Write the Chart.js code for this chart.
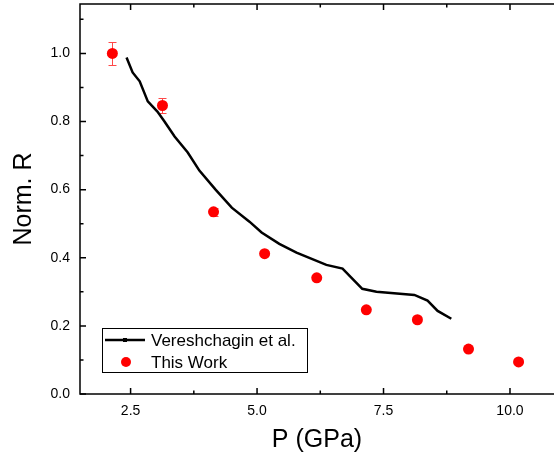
<!DOCTYPE html>
<html>
<head>
<meta charset="utf-8">
<title>Norm. R vs P</title>
<script src="https://cdn.jsdelivr.net/npm/chart.js@4.4.1/dist/chart.umd.min.js"></script>
<style>
    html, body { margin: 0; padding: 0; background: #fff; }
    canvas { display: block; }
</style>
</head>
<body>
<canvas id="resistanceChart" width="554" height="461"></canvas>
<script>
// Vereshchagin et al. curve
const lineP = [2.42, 2.54, 2.68, 2.84, 3.03, 3.17, 3.37, 3.63, 3.86, 4.18, 4.50, 4.85, 5.09, 5.44, 5.78, 6.37, 6.69, 7.08, 7.36, 8.11, 8.37, 8.57, 8.84];
const lineR = [0.988, 0.944, 0.918, 0.859, 0.829, 0.800, 0.756, 0.709, 0.656, 0.600, 0.547, 0.506, 0.474, 0.441, 0.415, 0.379, 0.368, 0.309, 0.300, 0.291, 0.274, 0.244, 0.221];

// This work
const workP = [2.14, 3.13, 4.14, 5.15, 6.18, 7.16, 8.17, 9.18, 10.17];
const workR = [1.000, 0.847, 0.535, 0.412, 0.341, 0.247, 0.218, 0.132, 0.094];
const workErr = [0.033, 0.023, 0.011, 0, 0, 0, 0, 0, 0];

const xTicks = [2.5, 5.0, 7.5, 10.0];
const xMinorTicks = [3.75, 6.25, 8.75];
const yTicks = [0.0, 0.2, 0.4, 0.6, 0.8, 1.0];
const yMinorTicks = [0.1, 0.3, 0.5, 0.7, 0.9, 1.1];

const FONT = "'Liberation Sans', Arial, sans-serif";

// frame with inward ticks; the right edge sits just past the canvas
const framePlugin = {
    id: "frame",
    afterDatasetsDraw(chart) {
        const { ctx, chartArea: a, scales: { x, y } } = chart;
        const right = a.right + 6;
        ctx.save();
        ctx.strokeStyle = "#000";
        ctx.lineWidth = 1.5;
        ctx.strokeRect(a.left, a.top, right - a.left, a.bottom - a.top);

        function xTick(v, len) {
            const px = x.getPixelForValue(v);
            ctx.moveTo(px, a.bottom); ctx.lineTo(px, a.bottom - len);
            ctx.moveTo(px, a.top); ctx.lineTo(px, a.top + len);
        }
        function yTick(v, len) {
            const py = y.getPixelForValue(v);
            ctx.moveTo(a.left, py); ctx.lineTo(a.left + len, py);
            ctx.moveTo(right, py); ctx.lineTo(right - len, py);
        }
        ctx.beginPath();
        xTicks.forEach(v => xTick(v, 6));
        xMinorTicks.forEach(v => xTick(v, 3.5));
        yTicks.forEach(v => yTick(v, 6));
        yMinorTicks.forEach(v => yTick(v, 3.5));
        ctx.stroke();
        ctx.restore();
    }
};

// vertical error bars with caps
const errorBarPlugin = {
    id: "errorBars",
    beforeDatasetsDraw(chart) {
        const { ctx, scales: { x, y } } = chart;
        ctx.save();
        ctx.strokeStyle = "#ff4848";
        ctx.lineWidth = 1;
        ctx.beginPath();
        workP.forEach((p, i) => {
            if (!workErr[i]) return;
            const px = Math.round(x.getPixelForValue(p)) + 0.5;
            const top = Math.round(y.getPixelForValue(workR[i] + workErr[i])) + 0.5;
            const bot = Math.round(y.getPixelForValue(workR[i] - workErr[i])) + 0.5;
            ctx.moveTo(px, top); ctx.lineTo(px, bot);
            ctx.moveTo(px - 4, top); ctx.lineTo(px + 4, top);
            ctx.moveTo(px - 4, bot); ctx.lineTo(px + 4, bot);
        });
        ctx.stroke();
        ctx.restore();
    }
};

// boxed legend in the lower left of the plot
const legendBoxPlugin = {
    id: "legendBox",
    afterDraw(chart) {
        const { ctx, chartArea: a } = chart;
        const ds = chart.data.datasets;
        const bx = a.left + 22, by = a.bottom - 66, bw = 205, bh = 44;
        ctx.save();
        ctx.strokeStyle = "#000";
        ctx.lineWidth = 1;
        ctx.strokeRect(bx + 0.5, by + 0.5, bw, bh);

        ctx.font = "17px " + FONT;
        ctx.fillStyle = "#000";
        ctx.textBaseline = "middle";

        const row1 = by + 12, row2 = by + 34;
        ctx.strokeStyle = ds[0].borderColor;
        ctx.lineWidth = 2.5;
        ctx.beginPath();
        ctx.moveTo(bx + 3, row1); ctx.lineTo(bx + 43, row1);
        ctx.stroke();
        ctx.fillRect(bx + 21, row1 - 2, 4, 4);
        ctx.fillText(ds[0].label, bx + 49, row1 + 1);

        ctx.fillStyle = ds[1].backgroundColor;
        ctx.beginPath();
        ctx.arc(bx + 24, row2, 5, 0, Math.PI * 2);
        ctx.fill();
        ctx.fillStyle = "#000";
        ctx.fillText(ds[1].label, bx + 49, row2 + 1);
        ctx.restore();
    }
};

const ctx = document.getElementById("resistanceChart").getContext("2d");

new Chart(ctx, {
    type: "scatter",
    data: {
        datasets: [{
            label: "Vereshchagin et al.",
            data: lineP.map((p, i) => ({ x: p, y: lineR[i] })),
            showLine: true,
            borderColor: "#000",
            borderWidth: 2.5,
            pointRadius: 0,
            tension: 0
        }, {
            label: "This Work",
            data: workP.map((p, i) => ({ x: p, y: workR[i] })),
            backgroundColor: "#ff0000",
            borderWidth: 0,
            pointRadius: 5.5,
            pointHoverRadius: 5.5
        }]
    },
    options: {
        responsive: false,
        animation: false,
        devicePixelRatio: 1,
        layout: {
            autoPadding: false,
            padding: { top: 4, right: 0, left: 0, bottom: 0 }
        },
        plugins: {
            legend: { display: false },
            tooltip: { enabled: false }
        },
        scales: {
            x: {
                type: "linear",
                min: 1.5,
                max: 10.87,
                afterBuildTicks: s => { s.ticks = xTicks.map(v => ({ value: v })); },
                afterFit: s => { s.height = 67; s.paddingLeft = 0; s.paddingRight = 0; },
                grid: { display: false, drawTicks: false },
                border: { display: false },
                ticks: {
                    color: "#000",
                    font: { family: FONT, size: 14 },
                    padding: 9,
                    maxRotation: 0,
                    autoSkip: false,
                    callback: v => v.toFixed(1)
                },
                title: {
                    display: true,
                    text: "P (GPa)",
                    color: "#000",
                    font: { family: FONT, size: 25 },
                    padding: { top: 0, bottom: 6 }
                }
            },
            y: {
                type: "linear",
                min: 0,
                max: 1.145,
                afterBuildTicks: s => { s.ticks = yTicks.map(v => ({ value: v })); },
                afterFit: s => { s.width = 80; s.paddingTop = 0; s.paddingBottom = 0; },
                grid: { display: false, drawTicks: false },
                border: { display: false },
                ticks: {
                    color: "#000",
                    font: { family: FONT, size: 14 },
                    padding: 10,
                    autoSkip: false,
                    callback: v => v.toFixed(1)
                },
                title: {
                    display: true,
                    text: "Norm. R",
                    color: "#000",
                    font: { family: FONT, size: 25 },
                    padding: { top: 9, bottom: 0 }
                }
            }
        }
    },
    plugins: [errorBarPlugin, framePlugin, legendBoxPlugin]
});
</script>
</body>
</html>
